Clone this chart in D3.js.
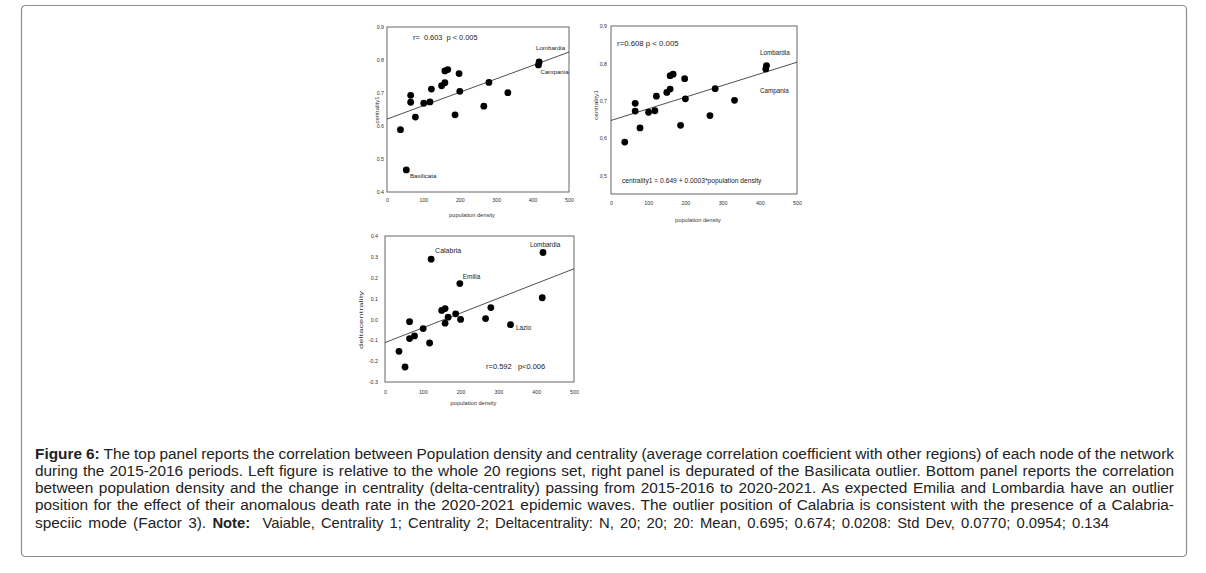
<!DOCTYPE html>
<html><head><meta charset="utf-8">
<script src="https://cdn.jsdelivr.net/npm/d3@7"></script>
<style>
body{margin:0;background:#fff}
svg{display:block;font-family:"Liberation Sans",Arial,sans-serif}
</style>
</head><body>
<svg id="c" width="1206" height="573"></svg>
<script>
// ---------- data ----------
const regionLabel = ["", "Basilicata", "", "", "", "", "", "Calabria", "", "", "", "", "", "Emilia", "", "", "", "Lazio", "Lombardia", "Campania"];
const density = [37, 53, 65, 65, 78, 101, 118, 122, 150, 159, 159, 167, 187, 198, 200, 266, 280, 332, 418, 416];
const centrality1 = [0.589, 0.467, 0.693, 0.672, 0.627, 0.669, 0.673, 0.712, 0.722, 0.731, 0.767, 0.771, 0.634, 0.759, 0.705, 0.660, 0.732, 0.701, 0.794, 0.785];
const deltacentrality = [-0.153, -0.228, -0.011, -0.092, -0.079, -0.044, -0.113, 0.289, 0.043, 0.052, -0.018, 0.011, 0.027, 0.172, 0.000, 0.004, 0.057, -0.025, 0.321, 0.104];
const xTicks = [0, 100, 200, 300, 400, 500];
const yTicksAll = [0.4, 0.5, 0.6, 0.7, 0.8, 0.9];
const yTicksNoBasilicata = [0.5, 0.6, 0.7, 0.8, 0.9];
const yTicksDelta = [-0.3, -0.2, -0.1, 0.0, 0.1, 0.2, 0.3, 0.4];
const fitIntercept = [0.621, 0.647, -0.111];
const fitSlope = [0.000406, 0.000312, 0.000708];
const statText = ["r=  0.603  p < 0.005", "r=0.608 p < 0.005", "r=0.592   p<0.006"];
const equationText = "centrality1 = 0.649 + 0.0003*population density";
const xTitle = "population density";
const yTitles = ["centrality1", "centrality1", "deltacentrality"];
const captionLines = [
  [["Figure 6:", true], [" The top panel reports the correlation between Population density and centrality (average correlation coefficient with other regions) of each node of the network", false]],
  [["during the 2015-2016 periods. Left figure is relative to the whole 20 regions set, right panel is depurated of the Basilicata outlier. Bottom panel reports the correlation", false]],
  [["between population density and the change in centrality (delta-centrality) passing from 2015-2016 to 2020-2021. As expected Emilia and Lombardia have an outlier", false]],
  [["position for the effect of their anomalous death rate in the 2020-2021 epidemic waves. The outlier position of Calabria is consistent with the presence of a Calabria-", false]],
  [["speciic mode (Factor 3). ", false], ["Note:", true], ["  Vaiable, Centrality 1; Centrality 2; Deltacentrality: N, 20; 20; 20: Mean, 0.695; 0.674; 0.0208: Std Dev, 0.0770; 0.0954; 0.134", false]]
];

// ---------- drawing ----------
const svg = d3.select("#c");
svg.append("rect").attr("x", 21.5).attr("y", 5.5).attr("width", 1165).attr("height", 551)
  .attr("rx", 4).attr("fill", "#fff").attr("stroke", "#8c8c8c").attr("stroke-width", 1.2);

const fmtDot = d => d3.format(".1f")(d).replace("\u2212", "-");
const fmtComma = d => fmtDot(d).replace(".", ",");
const allIdx = d3.range(density.length);

const panels = [
  {x: [387, 569], yDom: [0.4, 0.9], y: [192, 27], yVals: centrality1, yTicks: yTicksAll, fmt: fmtDot,
   idx: allIdx, xPad: 6.5, yPad: 3, xTitleY: 217, yTitleX: 378.5, yTitleY: 110, yTitleLen: 27,
   stat: {x: 413, y: 39.5, size: 7.4},
   labels: [{i: 1, dx: 3.7, dy: 8, s: 6.2}, {i: 18, dx: -3.2, dy: -12, s: 6.2}, {i: 19, dx: 2, dy: 9.5, s: 6.2}]},
  {x: [611, 797], yDom: [0.45, 0.9], y: [194, 26], yVals: centrality1, yTicks: yTicksNoBasilicata, fmt: fmtComma,
   idx: allIdx.filter(i => regionLabel[i] !== "Basilicata"), xPad: 7, yPad: 4, xTitleY: 222, yTitleX: 597.5, yTitleY: 105, yTitleLen: 30,
   stat: {x: 617, y: 46, size: 7.8},
   labels: [{i: 18, dx: -6.5, dy: -10.6, s: 6.3}, {i: 19, dx: -5.8, dy: 24, s: 6.3}]},
  {x: [385, 574], yDom: [-0.3, 0.4], y: [382, 236], yVals: deltacentrality, yTicks: yTicksDelta, fmt: fmtDot,
   idx: allIdx, xPad: 8, yPad: 7, xTitleY: 405, yTitleX: 363, yTitleY: 320, yTitleLen: 58,
   stat: {x: 486, y: 369, size: 7.5},
   labels: [{i: 7, dx: 4, dy: -6, s: 7}, {i: 18, dx: -13, dy: -5.5, s: 6.4}, {i: 13, dx: 3, dy: -4.5, s: 6.4}, {i: 17, dx: 5.5, dy: 5.5, s: 6.4}]}
];

panels.forEach((p, k) => {
  const x = d3.scaleLinear().domain([0, 500]).range(p.x);
  const y = d3.scaleLinear().domain(p.yDom).range(p.y);
  const g = svg.append("g");

  const ax = g.append("g").attr("transform", `translate(0,${p.y[0]})`)
    .call(d3.axisBottom(x).tickValues(xTicks).tickSize(0).tickPadding(p.xPad).tickFormat(d3.format("d")));
  const ay = g.append("g").attr("transform", `translate(${p.x[0]},0)`)
    .call(d3.axisLeft(y).tickValues(p.yTicks).tickSize(0).tickPadding(p.yPad).tickFormat(p.fmt));
  [ax, ay].forEach(a => {
    a.select(".domain").remove();
    a.selectAll("text").attr("font-size", 5.3).attr("fill", "#333").attr("font-family", "Liberation Sans, Arial, sans-serif");
  });

  g.append("rect").attr("x", p.x[0]).attr("y", p.y[1]).attr("width", p.x[1] - p.x[0]).attr("height", p.y[0] - p.y[1])
    .attr("fill", "none").attr("stroke", "#666").attr("stroke-width", 1);

  g.append("line")
    .attr("x1", x(0)).attr("y1", y(fitIntercept[k]))
    .attr("x2", x(500)).attr("y2", y(fitIntercept[k] + fitSlope[k] * 500))
    .attr("stroke", "#222").attr("stroke-width", 0.8);

  g.selectAll("circle.pt").data(p.idx).join("circle").attr("class", "pt")
    .attr("cx", i => x(density[i])).attr("cy", i => y(p.yVals[i])).attr("r", 3.4).attr("fill", "#000");

  p.labels.forEach(l => {
    g.append("text").attr("x", x(density[l.i]) + l.dx).attr("y", y(p.yVals[l.i]) + l.dy)
      .attr("font-size", l.s).attr("fill", "#222").text(regionLabel[l.i]);
  });

  g.append("text").attr("x", p.stat.x).attr("y", p.stat.y).attr("font-size", p.stat.size).attr("fill", "#222")
    .attr("xml:space", "preserve").style("white-space", "pre").text(statText[k]);

  g.append("text").attr("x", (p.x[0] + p.x[1]) / 2 - 6).attr("y", p.xTitleY).attr("text-anchor", "middle")
    .attr("font-size", 5.7).attr("fill", "#333").text(xTitle);
  g.append("text").attr("transform", `translate(${p.yTitleX},${p.yTitleY}) rotate(-90)`).attr("text-anchor", "middle")
    .attr("font-size", 5.8).attr("fill", "#333")
    .attr("textLength", p.yTitleLen).attr("lengthAdjust", "spacingAndGlyphs").text(yTitles[k]);

  if (k === 1) {
    g.append("text").attr("x", 622).attr("y", 183).attr("font-size", 6.7).attr("fill", "#222").text(equationText);
  }
});

// ---------- caption ----------
const capX = 35, capRight = [1174, 1174, 1174, 1174, 1109];
const capY0 = 458.5, capDY = 17.3;
captionLines.forEach((segs, li) => {
  const t = svg.append("text").attr("x", capX).attr("y", capY0 + li * capDY)
    .attr("font-size", 15.4).attr("fill", "#222").attr("xml:space", "preserve").style("white-space", "pre");
  segs.forEach(([s, b], si) => {
    const ts = t.append("tspan").text(s);
    if (b) ts.attr("font-weight", "bold");
    if (li === 4 && si > 0) ts.attr("font-size", 14.8);
  });
  const node = t.node();
  const w = node.getComputedTextLength();
  const spaces = (node.textContent.match(/ /g) || []).length;
  const target = capRight[li] - capX;
  t.attr("word-spacing", (target - w) / spaces);
});
</script>
</body></html>
